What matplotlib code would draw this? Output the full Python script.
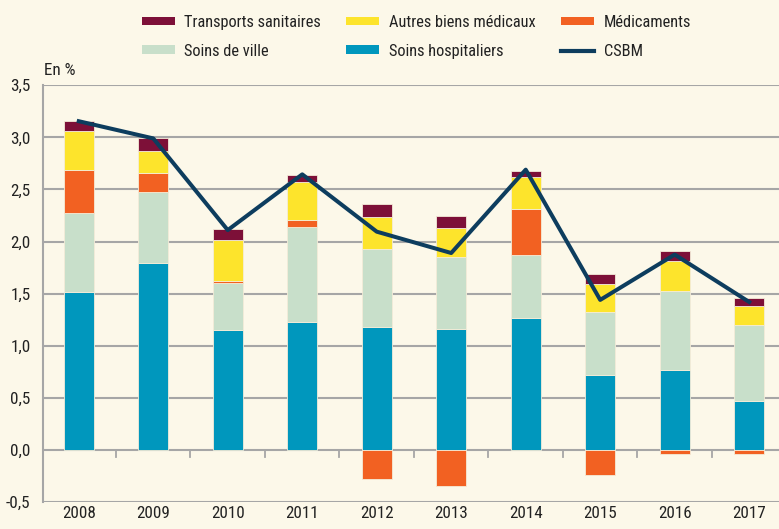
import matplotlib
matplotlib.use("Agg")
import matplotlib.pyplot as plt
import numpy as np
from matplotlib.patches import Patch
from matplotlib.lines import Line2D

years = ["2008", "2009", "2010", "2011", "2012", "2013", "2014", "2015", "2016", "2017"]
soins_hospitaliers = [1.52, 1.79, 1.15, 1.23, 1.18, 1.16, 1.27, 0.72, 0.77, 0.47]
soins_de_ville = [0.75, 0.69, 0.45, 0.91, 0.745, 0.69, 0.60, 0.60, 0.76, 0.73]
medicaments = [0.42, 0.175, 0.025, 0.07, -0.275, -0.35, 0.44, -0.245, -0.04, -0.035]
autres_biens = [0.375, 0.215, 0.39, 0.365, 0.315, 0.277, 0.307, 0.27, 0.28, 0.177]
transports = [0.09, 0.12, 0.105, 0.06, 0.125, 0.12, 0.064, 0.10, 0.10, 0.086]
csbm = [3.155, 2.99, 2.11, 2.645, 2.095, 1.89, 2.69, 1.44, 1.875, 1.42]

bg = "#fcf8e9"
colors = {
    "Soins hospitaliers": "#0097bd",
    "Soins de ville": "#c8dfca",
    "Médicaments": "#f26122",
    "Autres biens médicaux": "#fde42c",
    "Transports sanitaires": "#7d1038",
}
line_color = "#0d3d5e"
text_color = "#222222"

plt.rcParams["font.family"] = ["Liberation Sans Narrow", "Roboto Condensed",
                               "Liberation Sans", "DejaVu Sans"]

fig = plt.figure(figsize=(7.79, 5.29), dpi=100, facecolor=bg)
ax = fig.add_axes([0.0552, 0.051, 0.9448, 0.7878], facecolor=bg)

x = np.arange(len(years))
series = [
    ("Soins hospitaliers", soins_hospitaliers),
    ("Soins de ville", soins_de_ville),
    ("Médicaments", medicaments),
    ("Autres biens médicaux", autres_biens),
    ("Transports sanitaires", transports),
]
pos_bottom = np.zeros(len(years))
neg_bottom = np.zeros(len(years))
for name, vals in series:
    vals = np.array(vals, dtype=float)
    bottoms = np.where(vals >= 0, pos_bottom, neg_bottom)
    ax.bar(x, vals, width=0.4, bottom=bottoms, color=colors[name],
           edgecolor="#f4ecd8", linewidth=0.6, zorder=3)
    pos_bottom = pos_bottom + np.where(vals >= 0, vals, 0)
    neg_bottom = neg_bottom + np.where(vals < 0, vals, 0)

ax.plot(x, csbm, color=line_color, linewidth=2.9, zorder=4)

ax.set_xlim(-0.48, 9.4)
ax.set_ylim(-0.5, 3.5)
yt = np.arange(-0.5, 3.51, 0.5)
ax.set_yticks(yt)
ax.set_yticklabels([f"{v:.1f}".replace(".", ",") for v in yt], fontsize=12.3, color=text_color)
ax.tick_params(axis="y", length=0, pad=9)
for v in yt:
    ax.axhline(v, color="#a6a6a6", linewidth=1.5, zorder=1)

ax.set_xticks(x)
ax.set_xticklabels(years, fontsize=12.3, color=text_color)
ax.tick_params(axis="x", length=0, pad=3)
# small separator ticks on the zero line
for b in np.arange(0.5, 9.5, 1.0):
    ax.plot([b, b], [0, -0.065], color="#a6a6a6", linewidth=1.3, zorder=2, clip_on=False)

for s in ["top", "right", "bottom"]:
    ax.spines[s].set_visible(False)
ax.spines["left"].set_color("#a6a6a6")
ax.spines["left"].set_linewidth(1.5)

fig.text(0.0565, 0.853, "En %", fontsize=12.3, color=text_color, ha="left", va="bottom")

handles = [
    Patch(facecolor=colors["Transports sanitaires"], label="Transports sanitaires"),
    Patch(facecolor=colors["Soins de ville"], label="Soins de ville"),
    Patch(facecolor=colors["Autres biens médicaux"], label="Autres biens médicaux"),
    Patch(facecolor=colors["Soins hospitaliers"], label="Soins hospitaliers"),
    Patch(facecolor=colors["Médicaments"], label="Médicaments"),
    Line2D([0], [0], color=line_color, linewidth=3, label="CSBM"),
]
fig.legend(handles=handles, ncol=3, loc="upper left", bbox_to_anchor=(0.163, 1.0),
           frameon=False, fontsize=11.8, handlelength=2.0, handleheight=0.45,
           columnspacing=1.55, labelspacing=0.85, handletextpad=0.6, labelcolor=text_color)

fig.savefig("out.png", dpi=100, facecolor=bg)
